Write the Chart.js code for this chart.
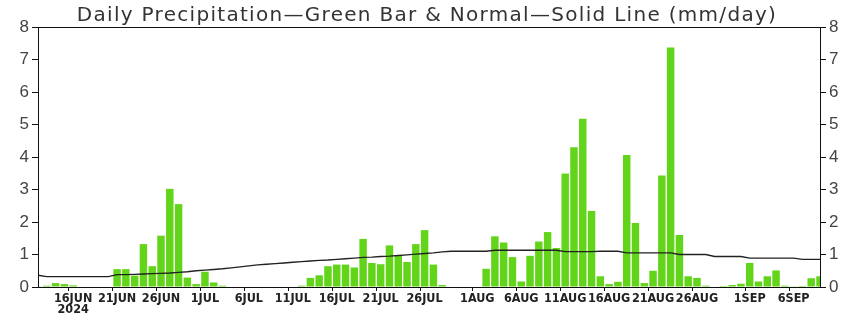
<!DOCTYPE html>
<html>
<head>
<meta charset="utf-8">
<script src="https://cdn.jsdelivr.net/npm/chart.js@4/dist/chart.umd.min.js"></script>
<style>
  body { margin: 0; background: #fff; }
  canvas { display: block; }
</style>
</head>
<body>
<canvas id="precipChart" width="856" height="318"></canvas>
<script>
// one category per day, 12 Jun - 9 Sep 2024
const days = [
  '12JUN','13JUN','14JUN','15JUN','16JUN','17JUN','18JUN','19JUN','20JUN','21JUN',
  '22JUN','23JUN','24JUN','25JUN','26JUN','27JUN','28JUN','29JUN','30JUN',
  '1JUL','2JUL','3JUL','4JUL','5JUL','6JUL','7JUL','8JUL','9JUL','10JUL',
  '11JUL','12JUL','13JUL','14JUL','15JUL','16JUL','17JUL','18JUL','19JUL','20JUL',
  '21JUL','22JUL','23JUL','24JUL','25JUL','26JUL','27JUL','28JUL','29JUL','30JUL','31JUL',
  '1AUG','2AUG','3AUG','4AUG','5AUG','6AUG','7AUG','8AUG','9AUG','10AUG',
  '11AUG','12AUG','13AUG','14AUG','15AUG','16AUG','17AUG','18AUG','19AUG','20AUG',
  '21AUG','22AUG','23AUG','24AUG','25AUG','26AUG','27AUG','28AUG','29AUG','30AUG','31AUG',
  '1SEP','2SEP','3SEP','4SEP','5SEP','6SEP','7SEP','8SEP','9SEP'
];

// daily precipitation (mm/day) - green bars
const precipJun = [0.02, 0.04, 0.12, 0.09, 0.05, 0, 0, 0, 0,
  0.55, 0.55, 0.35, 1.32, 0.64, 1.58, 3.02, 2.55, 0.29, 0.09];
const precipJul = [0.47, 0.14, 0.04, 0, 0, 0, 0, 0, 0, 0, 0,
  0.04, 0.28, 0.36, 0.64, 0.69, 0.69, 0.6, 1.48, 0.74, 0.7,
  1.28, 0.97, 0.77, 1.32, 1.75, 0.69, 0.06, 0, 0, 0];
const precipAug = [0, 0.56, 1.56, 1.37, 0.92, 0.17, 0.96, 1.4, 1.69, 1.2,
  3.49, 4.3, 5.18, 2.34, 0.33, 0.09, 0.16, 4.06, 1.97, 0.12,
  0.5, 3.43, 7.37, 1.6, 0.33, 0.28, 0.04, 0, 0.03, 0.06, 0.1];
const precipSep = [0.74, 0.17, 0.33, 0.51, 0.04, 0.01, 0.03, 0.27, 0.33];

// climatological normal (mm/day) - solid line
const normalJun = [0.36, 0.32, 0.32, 0.32, 0.32, 0.32, 0.32, 0.32, 0.32,
  0.38, 0.38, 0.39, 0.4, 0.41, 0.42, 0.43, 0.45, 0.47, 0.5];
const normalJul = [0.52, 0.54, 0.56, 0.59, 0.62, 0.65, 0.68, 0.7, 0.72, 0.74,
  0.76, 0.78, 0.8, 0.82, 0.83, 0.85, 0.87, 0.89, 0.91, 0.92,
  0.94, 0.95, 0.97, 0.99, 1.01, 1.03, 1.05, 1.08, 1.1, 1.1, 1.1];
const normalAug = [1.1, 1.1, 1.13, 1.13, 1.13, 1.13, 1.13, 1.13, 1.13, 1.13,
  1.09, 1.09, 1.09, 1.09, 1.1, 1.1, 1.1, 1.05, 1.05, 1.05,
  1.05, 1.05, 1.05, 1.0, 1.0, 1.0, 1.0, 0.94, 0.94, 0.94, 0.94];
const normalSep = [0.89, 0.89, 0.89, 0.89, 0.89, 0.89, 0.85, 0.85, 0.85];

// x axis labels that are actually shown
const tickLabels = ['16JUN','21JUN','26JUN','1JUL','6JUL','11JUL','16JUL','21JUL','26JUL',
  '1AUG','6AUG','11AUG','16AUG','21AUG','26AUG','1SEP','6SEP'];
const yearLabel = '2024';
const yTicks = [0, 1, 2, 3, 4, 5, 6, 7, 8];
const titleText = 'Daily Precipitation\u2014Green Bar & Normal\u2014Solid Line (mm/day)';

const precip = [...precipJun, ...precipJul, ...precipAug, ...precipSep];
const normal = [...normalJun, ...normalJul, ...normalAug, ...normalSep];

// frame round the plot area + spaced out title above it
const frame = {
  id: 'frame',
  afterDatasetsDraw(chart) {
    const a = chart.chartArea;
    const ctx = chart.ctx;
    ctx.save();
    ctx.strokeStyle = '#111';
    ctx.lineWidth = 1;
    ctx.strokeRect(Math.round(a.left) + 0.5, Math.round(a.top) + 0.5,
      Math.round(a.right - a.left), Math.round(a.bottom - a.top));

    ctx.fillStyle = '#333';
    ctx.font = '20px "DejaVu Sans", sans-serif';
    ctx.letterSpacing = '1.3px';
    ctx.textAlign = 'center';
    ctx.textBaseline = 'alphabetic';
    ctx.fillText(titleText, (a.left + a.right) / 2 - 2, 21);
    ctx.restore();
  }
};

const yAxis = (position, width) => ({
  position: position,
  min: 0,
  max: 8,
  afterFit: (scale) => { scale.width = width; },
  afterBuildTicks: (scale) => { scale.ticks = yTicks.map(v => ({ value: v })); },
  border: { display: false },
  grid: { drawOnChartArea: false, drawTicks: true, tickLength: 6, color: '#111' },
  ticks: {
    padding: 3,
    color: '#444',
    font: { family: '"Liberation Sans", Arial, sans-serif', size: 17 }
  }
});

new Chart(document.getElementById('precipChart').getContext('2d'), {
  type: 'bar',
  data: {
    labels: days,
    datasets: [
      {
        type: 'line',
        label: 'Normal',
        data: normal,
        borderColor: '#222',
        borderWidth: 1.4,
        pointRadius: 0,
        tension: 0,
        order: 0
      },
      {
        label: 'Precipitation',
        data: precip,
        backgroundColor: '#62d419',
        borderWidth: 0,
        barPercentage: 0.85,
        categoryPercentage: 1,
        order: 1
      }
    ]
  },
  options: {
    responsive: false,
    animation: false,
    devicePixelRatio: 1,
    layout: { padding: { top: 27 } },
    plugins: {
      legend: { display: false },
      tooltip: { enabled: false },
      title: { display: false }
    },
    scales: {
      x: {
        offset: false,
        afterFit: (scale) => { scale.height = 31; },
        border: { display: false },
        grid: {
          drawOnChartArea: false,
          tickLength: 4,
          color: (ctx) => tickLabels.includes(days[ctx.index]) ? '#111' : 'rgba(0,0,0,0)'
        },
        ticks: {
          autoSkip: false,
          maxRotation: 0,
          minRotation: 0,
          padding: 2,
          color: '#222',
          font: { family: '"Liberation Sans Narrow", "DejaVu Sans Condensed", sans-serif', size: 12.5, weight: 'bold', lineHeight: 0.9 },
          callback: function (value, index) {
            const d = days[index];
            if (!tickLabels.includes(d)) return '';
            return d === '16JUN' ? [d, yearLabel] : d;
          }
        }
      },
      y: yAxis('left', 38),
      y2: yAxis('right', 36)
    }
  },
  plugins: [frame]
});
</script>
</body>
</html>
